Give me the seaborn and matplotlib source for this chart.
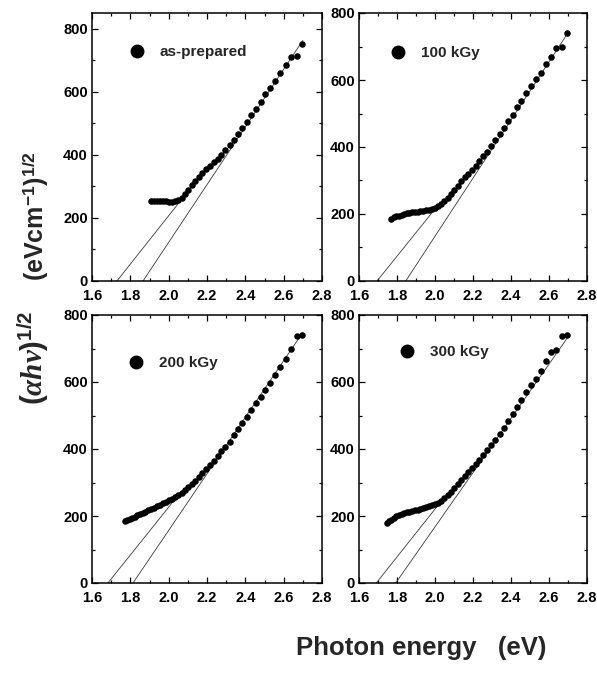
import matplotlib
matplotlib.use("Agg")
import matplotlib.pyplot as plt
import pandas as pd
import seaborn as sns
from matplotlib.lines import Line2D
from matplotlib.ticker import MultipleLocator

# Photon energies of the measured points (eV), high to low
photon_energy = [2.696, 2.667, 2.638, 2.611, 2.583, 2.557, 2.531, 2.505, 2.480, 2.455,
                 2.431, 2.408, 2.385, 2.362, 2.340, 2.318, 2.296, 2.275, 2.255, 2.234,
                 2.214, 2.195, 2.175, 2.157, 2.138, 2.120, 2.102, 2.084, 2.067, 2.050,
                 2.033, 2.016, 2.000, 1.984, 1.968, 1.953, 1.938, 1.922, 1.908, 1.893,
                 1.879, 1.865, 1.851, 1.837, 1.824, 1.810, 1.797, 1.784, 1.771, 1.759,
                 1.746]

samples = ["as-prepared", "100 kGy", "200 kGy", "300 kGy"]

# (alpha h nu)^(1/2) for each sample, in the same order as photon_energy
tauc_asprep = [753, 714, 710, 685, 660, 634, 612, 592, 569, 547,
               525, 504, 484, 466, 448, 430, 414, 400, 388, 377,
               366, 355, 343, 331, 318, 303, 289, 276, 264, 256,
               253, 252, 252, 253, 254, 255, 255, 254, 253]
tauc_100 = [740, 699, 697, 670, 648, 622, 603, 582, 562, 538,
            518, 497, 478, 458, 440, 420, 402, 386, 372, 357,
            344, 332, 320, 310, 298, 285, 272, 259, 249, 240,
            231, 223, 218, 215, 213, 211, 210, 208, 207, 206,
            205, 204, 202, 199, 197, 195, 193, 190, 186]
tauc_200 = [741, 738, 698, 669, 646, 622, 598, 577, 556, 538,
            516, 496, 478, 459, 442, 421, 405, 393, 378, 365,
            352, 340, 328, 317, 305, 296, 288, 279, 270, 262,
            256, 251, 247, 243, 238, 233, 229, 225, 221, 217,
            213, 209, 206, 202, 198, 195, 192, 189, 185]
tauc_300 = [740, 737, 695, 690, 664, 632, 610, 590, 570, 546,
            524, 504, 484, 464, 446, 428, 412, 396, 382, 368,
            355, 344, 332, 320, 308, 296, 284, 272, 262, 254,
            246, 240, 236, 232, 229, 226, 223, 221, 219, 217,
            215, 213, 211, 209, 206, 203, 199, 194, 189, 184,
            179]
tauc_values = [tauc_asprep, tauc_100, tauc_200, tauc_300]

# Linear extrapolations: start on the energy axis, end point on the curve
fit_low_x = [[1.730, 2.060], [1.695, 2.030], [1.683, 2.040], [1.691, 2.030]]
fit_low_y = [[0, 253], [0, 236], [0, 255], [0, 242]]
fit_high_x = [[1.866, 2.700], [1.846, 2.700], [1.814, 2.700], [1.793, 2.707]]
fit_high_y = [[0, 763], [0, 741], [0, 748], [0, 740]]

y_top = [850, 800, 800, 800]
y_ticks = [0, 200, 400, 600, 800]
x_ticks = [1.6, 1.8, 2.0, 2.2, 2.4, 2.6, 2.8]

frames = []
for name, vals in zip(samples, tauc_values):
    frames.append(pd.DataFrame({"sample": name,
                                "energy": photon_energy[:len(vals)],
                                "tauc": vals}))
data = pd.concat(frames, ignore_index=True)

sns.set_theme(style="ticks")
plt.rcParams["font.family"] = ["Liberation Sans", "DejaVu Sans"]
plt.rcParams["font.weight"] = "bold"
plt.rcParams["mathtext.fontset"] = "custom"
plt.rcParams["mathtext.rm"] = "Liberation Sans:bold"
plt.rcParams["mathtext.bf"] = "Liberation Sans:bold"
plt.rcParams["mathtext.it"] = "Liberation Serif:italic"

W, H = 597, 677
fig = plt.figure(figsize=(W / 100, H / 100), dpi=100)
fig.patch.set_facecolor("white")

# panel boxes in pixels: left, top, right, bottom
boxes = [(92, 13, 322, 281), (359, 13, 587, 281),
         (92, 315, 322, 583), (359, 315, 587, 583)]
# legend dot centre in pixels
legend_dots = [(137, 52), (398, 53), (136, 363), (407, 352)]

for i, name in enumerate(samples):
    l, t, r, b = boxes[i]
    ax = fig.add_axes([l / W, 1 - b / H, (r - l) / W, (b - t) / H])
    ax.set_facecolor("white")

    ax.plot(fit_low_x[i], fit_low_y[i], color="#3a3a3a", lw=0.6, zorder=1)
    ax.plot(fit_high_x[i], fit_high_y[i], color="#3a3a3a", lw=0.6, zorder=1)

    sns.scatterplot(data=data[data["sample"] == name], x="energy", y="tauc",
                    ax=ax, color="black", s=22, linewidth=0, legend=False,
                    zorder=3)

    ax.set_xlim(1.6, 2.8)
    ax.set_ylim(0, y_top[i])
    ax.set_xticks(x_ticks)
    ax.set_yticks(y_ticks)
    ax.set_xticklabels([f"{v:.1f}" for v in x_ticks])
    ax.xaxis.set_minor_locator(MultipleLocator(0.1))
    ax.yaxis.set_minor_locator(MultipleLocator(100))
    ax.set_xlabel("")
    ax.set_ylabel("")
    ax.tick_params(which="both", direction="in", top=True, right=True,
                   width=0.9, colors="black")
    ax.tick_params(which="major", length=4, labelsize=10.5)
    ax.tick_params(axis="x", which="major", pad=5.5)
    ax.tick_params(axis="y", which="major", pad=3)
    ax.tick_params(which="minor", length=2.5)
    for lab in ax.get_xticklabels() + ax.get_yticklabels():
        lab.set_fontweight("bold")
    for sp in ax.spines.values():
        sp.set_linewidth(1.1)
        sp.set_color("black")
        sp.set_visible(True)

    dx, dy = legend_dots[i]
    handle = Line2D([], [], marker="o", ls="", color="black", markersize=9)
    ax.legend([handle], [name], loc="center left", frameon=False,
              bbox_to_anchor=((dx - 7.6 - l) / (r - l), (b - dy) / (b - t)),
              borderpad=0, borderaxespad=0, handlelength=1.0,
              handletextpad=1.0, prop={"size": 11, "weight": "bold"})

fig.text(36 / W, 1 - 216 / H, r"(eVcm$^{-1}$)$^{1/2}$", rotation=90,
         ha="center", va="center", fontsize=18, fontweight="bold")
fig.text(33 / W, 1 - 358 / H, r"$(\alpha h\nu)^{1/2}$", rotation=90,
         ha="center", va="center", fontsize=21, fontweight="bold")
fig.text(421 / W, 1 - 648 / H, "Photon energy   (eV)", ha="center",
         va="center", fontsize=18.5, fontweight="bold")

fig.savefig("out.png", dpi=100, facecolor="white")
